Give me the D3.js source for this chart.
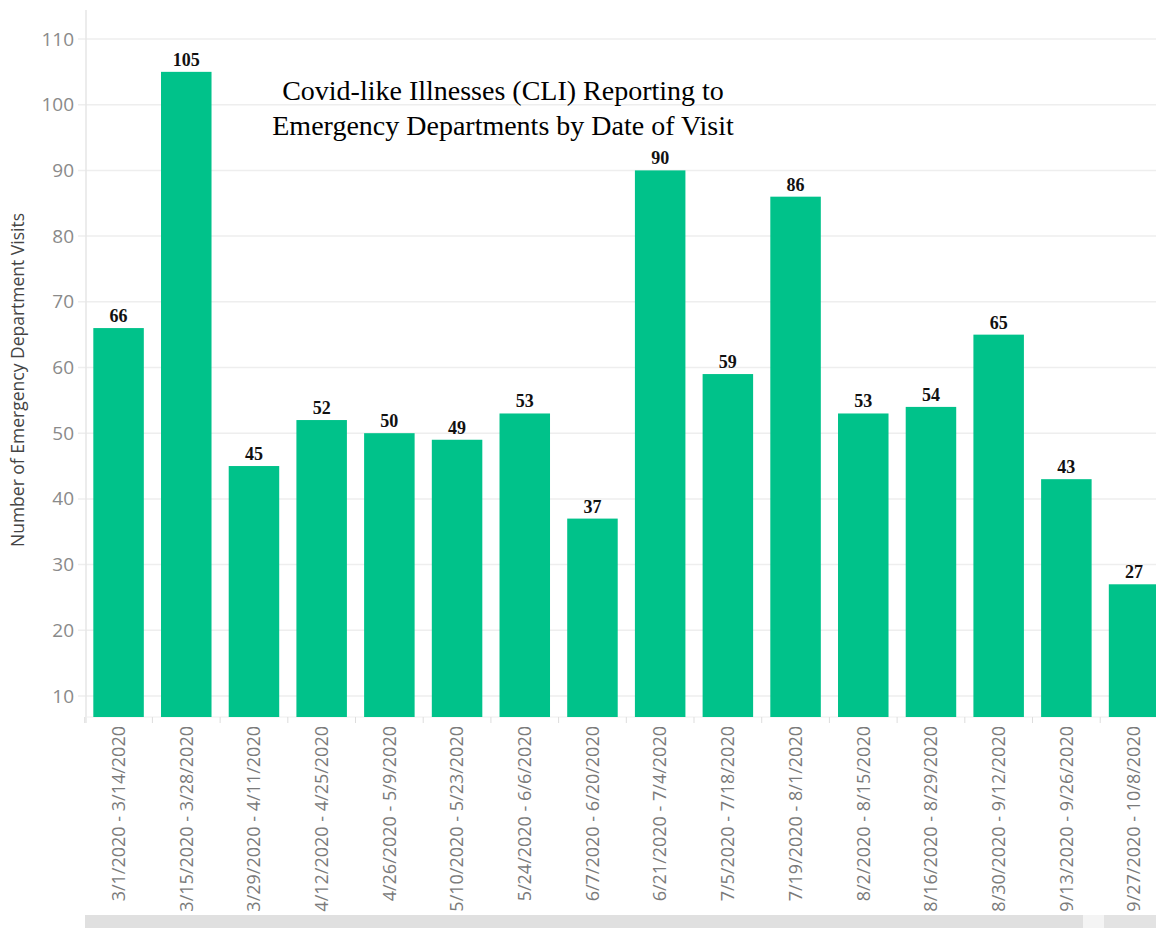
<!DOCTYPE html>
<html>
<head>
<meta charset="utf-8">
<script src="https://cdn.jsdelivr.net/npm/d3@7"></script>
<style>
  html, body { margin: 0; padding: 0; background: #fff; overflow: hidden; }
  svg { display: block; }
</style>
</head>
<body>
<svg id="chart" width="1156" height="928"></svg>
<script>
const categories = [
  "3/1/2020 - 3/14/2020", "3/15/2020 - 3/28/2020", "3/29/2020 - 4/11/2020",
  "4/12/2020 - 4/25/2020", "4/26/2020 - 5/9/2020", "5/10/2020 - 5/23/2020",
  "5/24/2020 - 6/6/2020", "6/7/2020 - 6/20/2020", "6/21/2020 - 7/4/2020",
  "7/5/2020 - 7/18/2020", "7/19/2020 - 8/1/2020", "8/2/2020 - 8/15/2020",
  "8/16/2020 - 8/29/2020", "8/30/2020 - 9/12/2020", "9/13/2020 - 9/26/2020",
  "9/27/2020 - 10/8/2020"
];
const visits = [66, 105, 45, 52, 50, 49, 53, 37, 90, 59, 86, 53, 54, 65, 43, 27];
const yTicks = [10, 20, 30, 40, 50, 60, 70, 80, 90, 100, 110];
const titleLines = ["Covid-like Illnesses (CLI) Reporting to", "Emergency Departments by Date of Visit"];
const yTitle = "Number of Emergency Department Visits";

const svg = d3.select("#chart");
const plotLeft = 86, plotBottom = 717, plotTop = 10;
const step = 67.7, pIn = 0.254, pOut = 0.108;

const x = d3.scaleBand()
  .domain(categories)
  .range([plotLeft, plotLeft + step * (categories.length - pIn + 2 * pOut)])
  .paddingInner(pIn)
  .paddingOuter(pOut);

const y = d3.scaleLinear()
  .domain([6.8, 110])
  .range([plotBottom, 39]);

// gridlines
svg.append("g").selectAll("line").data(yTicks).join("line")
  .attr("x1", plotLeft - 8).attr("x2", 1156)
  .attr("y1", d => y(d)).attr("y2", d => y(d))
  .attr("stroke", "#eeeeee").attr("stroke-width", 1.5);

// y axis line
svg.append("line")
  .attr("x1", plotLeft).attr("x2", plotLeft)
  .attr("y1", plotTop).attr("y2", plotBottom + 6)
  .attr("stroke", "#e6e6e6").attr("stroke-width", 1.5);

// x axis baseline + boundary ticks
svg.append("line")
  .attr("x1", plotLeft).attr("x2", 1156)
  .attr("y1", plotBottom).attr("y2", plotBottom)
  .attr("stroke", "#eeeeee").attr("stroke-width", 1);
svg.append("g").selectAll("line").data(categories).join("line")
  .attr("x1", d => x(d) - x.step() * pIn / 2)
  .attr("x2", d => x(d) - x.step() * pIn / 2)
  .attr("y1", plotBottom).attr("y2", plotBottom + 6)
  .attr("stroke", "#dddddd").attr("stroke-width", 1);

// y axis labels
const yAxis = d3.axisLeft(y).tickValues(yTicks).tickSize(0).tickPadding(12);
const yg = svg.append("g").attr("transform", `translate(${plotLeft},0)`).call(yAxis);
yg.select(".domain").remove();
yg.selectAll("text")
  .attr("font-family", "'Open Sans', sans-serif")
  .attr("font-size", 19)
  .attr("fill", "#8a8a8a");

// bars
svg.append("g").selectAll("rect").data(visits).join("rect")
  .attr("x", (d, i) => x(categories[i]))
  .attr("width", x.bandwidth())
  .attr("y", d => y(d))
  .attr("height", d => plotBottom - y(d))
  .attr("fill", "#00c28a");

// value labels
svg.append("g").selectAll("text").data(visits).join("text")
  .attr("x", (d, i) => x(categories[i]) + x.bandwidth() / 2)
  .attr("y", d => y(d) - 6)
  .attr("text-anchor", "middle")
  .attr("font-family", "'Liberation Serif', 'Times New Roman', serif")
  .attr("font-weight", "bold")
  .attr("font-size", 18)
  .attr("fill", "#111")
  .text(d => d);

// x axis labels
const xAxis = d3.axisBottom(x).tickSize(0).tickPadding(0);
const xg = svg.append("g").attr("transform", `translate(0,${plotBottom})`).call(xAxis);
xg.select(".domain").remove();
xg.selectAll("text")
  .attr("transform", "rotate(-90)")
  .attr("text-anchor", "end")
  .attr("x", -9)
  .attr("y", 0)
  .attr("dy", "0.35em")
  .attr("font-family", "'Open Sans', sans-serif")
  .attr("font-size", 18)
  .attr("fill", "#7a7a7a");

// y title
svg.append("text")
  .attr("transform", "translate(24,380) rotate(-90)")
  .attr("text-anchor", "middle")
  .attr("font-family", "'Open Sans', sans-serif")
  .attr("font-size", 17.5)
  .attr("fill", "#444")
  .text(yTitle);

// title
svg.append("g").selectAll("text").data(titleLines).join("text")
  .attr("x", 503)
  .attr("y", (d, i) => 100 + i * 35)
  .attr("text-anchor", "middle")
  .attr("font-family", "'Liberation Serif', 'Times New Roman', serif")
  .attr("font-size", 28)
  .attr("fill", "#000")
  .text(d => d);

// scrollbar
svg.append("rect").attr("x", 85).attr("y", 915).attr("width", 998).attr("height", 13).attr("fill", "#e0e0e0");
svg.append("rect").attr("x", 1083).attr("y", 915).attr("width", 21).attr("height", 13).attr("fill", "#f4f4f4");
svg.append("rect").attr("x", 1104).attr("y", 915).attr("width", 52).attr("height", 13).attr("fill", "#e3e3e3");
</script>
</body>
</html>
